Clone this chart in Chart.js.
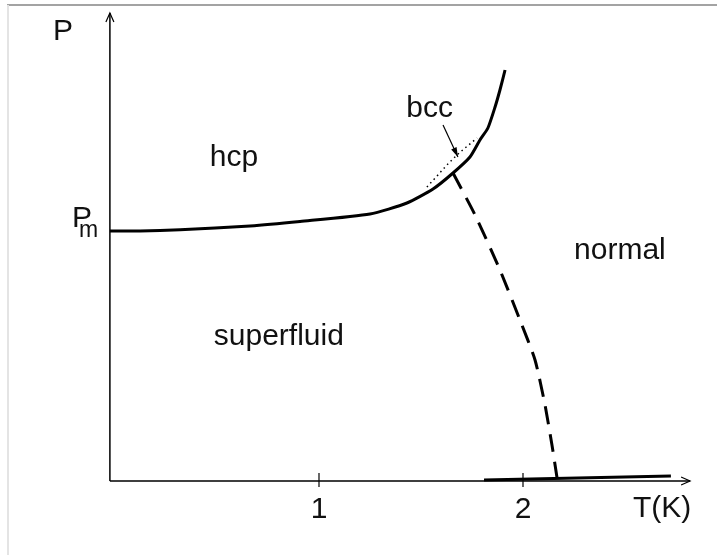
<!DOCTYPE html>
<html>
<head>
<meta charset="utf-8">
<script src="https://cdn.jsdelivr.net/npm/chart.js@4"></script>
<style>
  html, body { margin: 0; padding: 0; background: #fff; }
  #wrap { position: relative; width: 717px; height: 558px; }
  #frameTop { position: absolute; left: 7px; top: 4px; width: 710px; height: 2px; background: #a3a3a3; }
  #frameLeft { position: absolute; left: 7px; top: 5px; width: 2px; height: 550px; background: #e4e4e4; }
  canvas { position: absolute; left: 0; top: 0; }
</style>
</head>
<body>
<div id="wrap">
  <div id="frameTop"></div>
  <div id="frameLeft"></div>
  <canvas id="phaseChart" width="717" height="558"></canvas>
</div>
<script>
'use strict';

// Data (T in kelvin, P relative to Pm)
let meltingT = [-0.025, 0.123, 0.319, 0.662, 0.907, 1.25, 1.431, 1.559, 1.657, 1.74, 1.789, 1.828, 1.863, 1.887, 1.912];
let meltingP = [1.0, 1.0, 1.005, 1.02, 1.038, 1.068, 1.112, 1.168, 1.232, 1.296, 1.364, 1.412, 1.496, 1.564, 1.644];

let lambdaT = [1.657, 1.765, 1.887, 1.985, 2.059, 2.108, 2.142, 2.167];
let lambdaP = [1.232, 1.064, 0.844, 0.644, 0.484, 0.304, 0.144, 0.012];

let bccT = [1.529, 1.583, 1.627, 1.676, 1.716, 1.775];
let bccP = [1.176, 1.224, 1.264, 1.304, 1.332, 1.372];

let vaporT = [1.809, 2.725];
let vaporP = [0.004, 0.02];

let xTicks = [1, 2];
let xTickLabels = ['1', '2'];

let axisOrigin = -0.025;
let xAxisEnd = 2.819;
let yAxisEnd = 1.872;

// label text, T, P (baseline position)
let regionLabels = [
  ['hcp', 0.583, 1.26],
  ['superfluid', 0.803, 0.544],
  ['normal', 2.475, 0.888],
  ['bcc', 1.542, 1.456]
];

function toPoints(xs, ys){
  let pts = [];
  for (let i = 0; i < xs.length; i++){
    pts.push({x: xs[i], y: ys[i]});
  }
  return pts;
}

function lineSet(data, width, dash, tension){
  return {
    data: data,
    showLine: true,
    borderColor: '#000',
    borderWidth: width,
    borderDash: dash || [],
    pointRadius: 0,
    fill: false,
    tension: tension || 0,
    borderJoinStyle: 'round',
    borderCapStyle: 'butt'
  };
}

// Axes, ticks, arrows and text
let decorations = {
  id: 'decorations',
  afterDatasetsDraw(chart){
    let ctx = chart.ctx;
    let xs = chart.scales.x;
    let ys = chart.scales.y;
    let ox = xs.getPixelForValue(axisOrigin);
    let oy = ys.getPixelForValue(0);
    let ex = xs.getPixelForValue(xAxisEnd);
    let ey = ys.getPixelForValue(yAxisEnd);

    ctx.save();
    ctx.strokeStyle = '#000';
    ctx.fillStyle = '#111';
    ctx.lineWidth = 1.5;

    // axes
    ctx.beginPath();
    ctx.moveTo(ox, oy);
    ctx.lineTo(ex, oy);
    ctx.moveTo(ox, oy);
    ctx.lineTo(ox, ey);
    ctx.stroke();

    // axis arrow heads
    ctx.lineWidth = 1.2;
    ctx.beginPath();
    ctx.moveTo(ex - 9, oy - 4);
    ctx.lineTo(ex, oy);
    ctx.lineTo(ex - 9, oy + 4);
    ctx.moveTo(ox - 4, ey + 9);
    ctx.lineTo(ox, ey);
    ctx.lineTo(ox + 4, ey + 9);
    ctx.stroke();

    // ticks and tick labels
    ctx.font = '30px "Liberation Sans", Arial, sans-serif';
    ctx.textAlign = 'center';
    ctx.textBaseline = 'alphabetic';
    for (let i = 0; i < xTicks.length; i++){
      let tx = xs.getPixelForValue(xTicks[i]);
      ctx.beginPath();
      ctx.moveTo(tx, oy - 8);
      ctx.lineTo(tx, oy + 6);
      ctx.stroke();
      ctx.fillText(xTickLabels[i], tx, oy + 37);
    }

    // axis titles
    ctx.fillText('T(K)', ex - 28, oy + 36);
    ctx.textAlign = 'left';
    ctx.fillText('P', ox - 57, ey + 27);
    let pmY = ys.getPixelForValue(1);
    ctx.fillText('P', ox - 38, pmY - 4);
    ctx.font = '23px "Liberation Sans", Arial, sans-serif';
    ctx.fillText('m', ox - 31, pmY + 6);

    // region labels
    ctx.font = '30px "Liberation Sans", Arial, sans-serif';
    ctx.textAlign = 'center';
    regionLabels.forEach(lbl => {
      ctx.fillText(lbl[0], xs.getPixelForValue(lbl[1]), ys.getPixelForValue(lbl[2]));
    });

    // bcc pointer arrow
    let ax1 = xs.getPixelForValue(1.608);
    let ay1 = ys.getPixelForValue(1.424);
    let ax2 = xs.getPixelForValue(1.681);
    let ay2 = ys.getPixelForValue(1.296);
    let ang = Math.atan2(ay2 - ay1, ax2 - ax1);
    ctx.lineWidth = 1.2;
    ctx.beginPath();
    ctx.moveTo(ax1, ay1);
    ctx.lineTo(ax2, ay2);
    ctx.stroke();
    ctx.fillStyle = '#000';
    ctx.beginPath();
    ctx.moveTo(ax2, ay2);
    ctx.lineTo(ax2 - 10 * Math.cos(ang - 0.3), ay2 - 10 * Math.sin(ang - 0.3));
    ctx.lineTo(ax2 - 10 * Math.cos(ang + 0.3), ay2 - 10 * Math.sin(ang + 0.3));
    ctx.closePath();
    ctx.fill();

    ctx.restore();
  }
};

let chartContext = document.getElementById('phaseChart');

new Chart(chartContext, { // eslint-disable-line
  type: 'scatter',
  data: {
    datasets: [
      lineSet(toPoints(meltingT, meltingP), 3, [], 0.2),
      lineSet(toPoints(lambdaT, lambdaP), 3, [18, 10], 0.2),
      lineSet(toPoints(bccT, bccP), 1.5, [1.5, 3.5]),
      lineSet(toPoints(vaporT, vaporP), 3)
    ]
  },
  options: {
    responsive: false,
    animation: false,
    layout: { padding: 0 },
    plugins: {
      legend: { display: false },
      tooltip: { enabled: false }
    },
    scales: {
      x: { type: 'linear', min: -0.5637, max: 2.951, display: false },
      y: { type: 'linear', min: -0.308, max: 1.924, display: false }
    }
  },
  plugins: [decorations]
});
</script>
</body>
</html>
